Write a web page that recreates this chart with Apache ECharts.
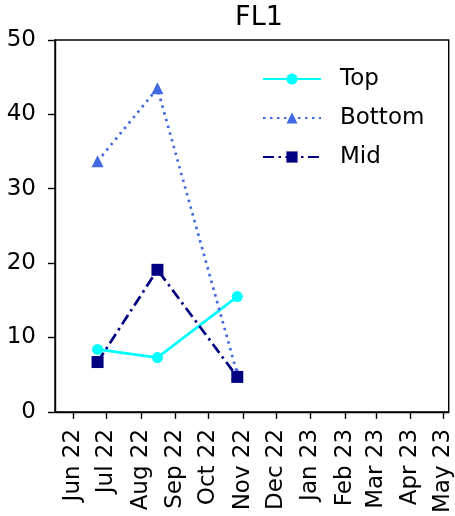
<!DOCTYPE html>
<html><head><meta charset="utf-8">
<script src="https://cdn.jsdelivr.net/npm/echarts@6/dist/echarts.min.js"></script>
<style>html,body{margin:0;padding:0;background:#fff}#c{width:455px;height:516px}</style>
</head><body><div id="c"></div>
<script>
const dates = ['2022-06-23', '2022-08-16', '2022-10-27'];
const topVals = [8.4, 7.3, 15.5];
const bottomVals = [33.7, 43.5, 5.1];
const midVals = [6.7, 19.1, 4.7];
const tickMonths = ['2022-06-01','2022-07-01','2022-08-01','2022-09-01','2022-10-01','2022-11-01','2022-12-01','2023-01-01','2023-02-01','2023-03-01','2023-04-01','2023-05-01'];
const tickLabels = ['Jun 22','Jul 22','Aug 22','Sep 22','Oct 22','Nov 22','Dec 22','Jan 23','Feb 23','Mar 23','Apr 23','May 23'];
const yTicks = [0, 10, 20, 30, 40, 50];

const DAY = 86400000;
const ts = s => new Date(s + 'T00:00:00Z').getTime() / DAY;
const tickTs = tickMonths.map(ts);
const labelMap = {};
tickTs.forEach((t, i) => labelMap[t] = tickLabels[i]);
const pair = vals => dates.map((d, i) => [ts(d), vals[i]]);

const chart = echarts.init(document.getElementById('c'), null, {renderer: 'canvas'});
const font = 'DejaVu Sans';
chart.setOption({
  animation: false,
  title: {text: 'FL1', left: 254, textAlign: 'center', top: -1, textStyle: {fontFamily: font, fontSize: 27, fontWeight: 'normal', color: '#000'}},
  grid: {left: 55, right: 3, top: 40, bottom: 98, show: true, borderColor: '#000', borderWidth: 1.4, containLabel: false},
  legend: {
    left: 257, top: 62, orient: 'vertical', itemWidth: 58, itemHeight: 14, itemGap: 15,
    textStyle: {fontFamily: font, fontSize: 23, lineHeight: 24, color: '#000', padding: [0, 0, 0, 14]},
    data: ['Top', 'Bottom', 'Mid']
  },
  xAxis: {
    type: 'value', min: ts('2022-06-01') - 16.4, max: ts('2023-05-01') + 4.7,
    axisLine: {show: true, onZero: false, lineStyle: {color: '#000', width: 1.4}},
    axisTick: {show: true, length: 7, lineStyle: {color: '#000', width: 1.4}, customValues: tickTs},
    axisLabel: {rotate: 90, fontFamily: font, fontSize: 23, color: '#000', margin: 17,
      customValues: tickTs, formatter: v => labelMap[v] || ''},
    splitLine: {show: false}
  },
  yAxis: {
    type: 'value', min: 0, max: 50, interval: 10,
    axisLine: {show: true, lineStyle: {color: '#000', width: 1.4}},
    axisTick: {show: true, length: 7, lineStyle: {color: '#000', width: 1.4}},
    axisLabel: {fontFamily: font, fontSize: 23, color: '#000', margin: 19, formatter: v => yTicks.includes(v) ? String(v) : ''},
    splitLine: {show: false}
  },
  series: [
    {name: 'Top', type: 'line', data: pair(topVals), color: '#00FFFF', symbol: 'circle', symbolSize: 11,
      lineStyle: {width: 2.7, color: '#00FFFF'}, itemStyle: {color: '#00FFFF'}},
    {name: 'Bottom', type: 'line', data: pair(bottomVals), color: '#4169E1', symbol: 'triangle', symbolSize: 12,
      lineStyle: {width: 2.7, type: [2.5, 4.5], color: '#4169E1'}, itemStyle: {color: '#4169E1'}},
    {name: 'Mid', type: 'line', data: pair(midVals), color: '#000080', symbol: 'rect', symbolSize: 12,
      lineStyle: {width: 2.7, type: [11, 4.5, 2.5, 4.5], color: '#000080'}, itemStyle: {color: '#000080'}}
  ]
});
</script></body></html>
